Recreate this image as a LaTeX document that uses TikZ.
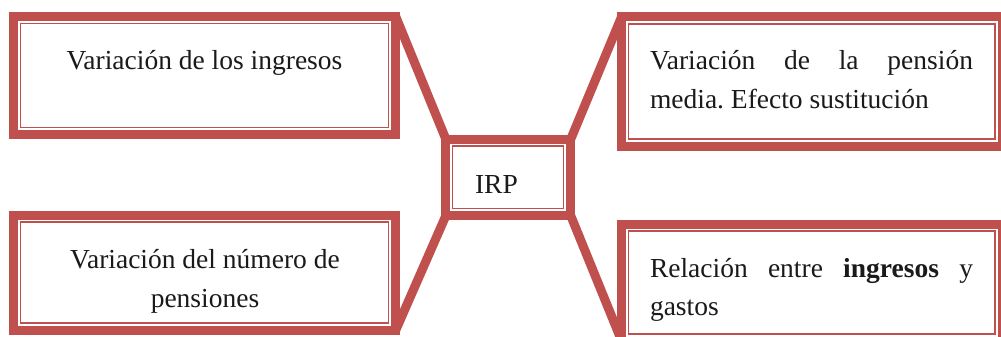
\documentclass[tikz,border=0pt]{standalone}
\usepackage{fontspec}
\setmainfont{Liberation Serif}
\frenchspacing
\definecolor{boxred}{HTML}{C0504D}
\definecolor{txt}{HTML}{1A1A1A}
\tikzset{
  ebox/.style={rectangle, outer sep=0pt, inner sep=0pt},
  inline/.style={draw=boxred, line width=1.3pt},
  outline/.style={draw=boxred, line width=9pt, fill=white},
  link/.style={draw=boxred, line width=9pt},
  lbl/.style={inner sep=0pt, outer sep=0pt, text=txt, font=\fontsize{27.5}{33}\selectfont\frenchspacing},
}
\begin{document}
\begin{tikzpicture}[x=1pt,y=-1pt]
\useasboundingbox (0,0) rectangle (1001,337);
\clip (0,0) rectangle (1001,337);
% box frames (shapes giving the anchors)
\path node[ebox, minimum width=382pt, minimum height=117.5pt] (tl) at (204.8,75.45) {}
      node[ebox, minimum width=382pt, minimum height=115pt] (bl) at (204.8,272.5) {}
      node[ebox, minimum width=380.5pt, minimum height=129pt] (tr) at (811.75,81.5) {}
      node[ebox, minimum width=380.3pt, minimum height=117pt] (br) at (811.85,282.5) {}
      node[ebox, minimum width=125pt, minimum height=76.8pt] (c) at (508.3,177.4) {};
% connectors
\draw[link] (tl.north east) -- (c.north west);
\draw[link] (bl.south east) -- (c.south west);
\draw[link] (c.north east) -- (tr.north west);
\draw[link] (c.south east) -- (br.south west);
% visible boxes: thick outer line, thin inner line
\foreach \n in {tl,bl,tr,br,c}{
  \draw[outline] (\n.north west) rectangle (\n.south east);
  \draw[inline] ([shift={(7,7)}]\n.north west) rectangle ([shift={(-7,-7)}]\n.south east);
}
% texts
\node[lbl, anchor=base] (ttl) at (204.5,70) {Variación de los ingresos};
\node[lbl, anchor=base] (tbl1) at (205,268) {Variación del número de};
\node[lbl, anchor=base] (tbl2) at (205,307) {pensiones};
\node[lbl, anchor=base west] (ttr1) at (650,70) {\hbox to 323pt{Variación\hfill de\hfill la\hfill pensión}};
\node[lbl, anchor=base west] (ttr2) at (650,108) {media. Efecto sustitución};
\node[lbl, anchor=base west] (tbr1) at (650,277) {\hbox to 323pt{Relación\hfill entre\hfill \textbf{ingresos}\hfill y}};
\node[lbl, anchor=base west] (tbr2) at (650,315) {gastos};
\node[lbl, anchor=base west] (tc) at (475,193) {IRP};
\end{tikzpicture}
\end{document}
